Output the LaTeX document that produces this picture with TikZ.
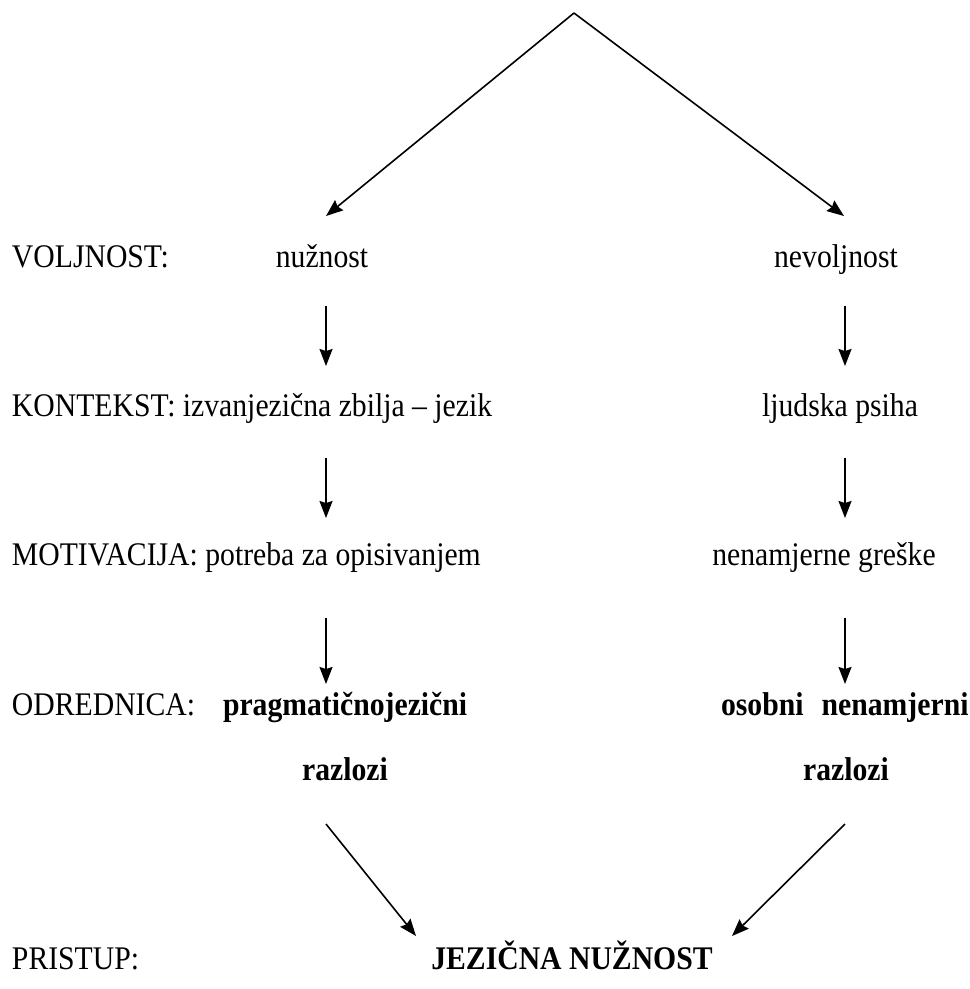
\documentclass[tikz,border=0pt]{standalone}
\usepackage{fontspec}
\setmainfont{Liberation Serif}[FakeStretch=0.9]
\usetikzlibrary{arrows.meta}
\tikzset{
  lbl/.style={inner sep=0pt, outer sep=0pt, anchor=base west, font=\fontsize{33}{38}\selectfont},
  blbl/.style={lbl, font=\fontsize{33}{38}\selectfont\bfseries},
  val/.style={inner sep=0pt, outer sep=0pt, anchor=base, font=\fontsize{33}{38}\selectfont},
  bval/.style={val, font=\fontsize{33}{38}\selectfont\bfseries},
  conn/.style={line width=1.6pt, -{Stealth[length=17pt,width=13pt,inset=2pt]}}
}
\begin{document}
\begin{tikzpicture}[x=1pt,y=-1pt]
\useasboundingbox (0,0) rectangle (970,989);
% texts
\node[lbl] (voljL) at (12,267) {VOLJNOST:};
\node[val] (nuz) at (322,267) {nužnost};
\node[val] (nevolj) at (836,267) {nevoljnost};
\node[lbl] (kontL) at (12,416) {KONTEKST: izvanjezična zbilja – jezik};
\node[val] (psiha) at (840,416) {ljudska psiha};
\node[lbl] (motL) at (12,565) {MOTIVACIJA: potreba za opisivanjem};
\node[val] (greske) at (824,565) {nenamjerne greške};
\node[lbl] (odrL) at (12,715) {ODREDNICA:};
\node[blbl] (prag) at (223,715) {pragmatičnojezični};
\node[blbl] (osob) at (721,715) {osobni\hspace{0.55em}nenamjerni};
\node[bval] (razL) at (345,780) {razlozi};
\node[bval] (razR) at (846,780) {razlozi};
\node[lbl] (priL) at (12,969) {PRISTUP:};
\node[bval] (jez) at (572,969) {JEZIČNA NUŽNOST};
% connector ends
\coordinate (apex) at (574,13);
\coordinate (tl) at (326,216);
\coordinate (tr) at (844,216);
\coordinate (a1s) at (326,306); \coordinate (a1e) at (326,366);
\coordinate (b1s) at (845,306); \coordinate (b1e) at (845,366);
\coordinate (a2s) at (326,458); \coordinate (a2e) at (326,518);
\coordinate (b2s) at (845,458); \coordinate (b2e) at (845,518);
\coordinate (a3s) at (326,618); \coordinate (a3e) at (326,684);
\coordinate (b3s) at (845,618); \coordinate (b3e) at (845,684);
\coordinate (dls) at (326,824); \coordinate (dle) at (416,936);
\coordinate (drs) at (845,824); \coordinate (dre) at (732,936);
% connectors
\draw[conn] (apex) -- (tl);
\draw[conn] (apex) -- (tr);
\draw[conn] (a1s) -- (a1e);
\draw[conn] (b1s) -- (b1e);
\draw[conn] (a2s) -- (a2e);
\draw[conn] (b2s) -- (b2e);
\draw[conn] (a3s) -- (a3e);
\draw[conn] (b3s) -- (b3e);
\draw[conn] (dls) -- (dle);
\draw[conn] (drs) -- (dre);
\end{tikzpicture}
\end{document}
